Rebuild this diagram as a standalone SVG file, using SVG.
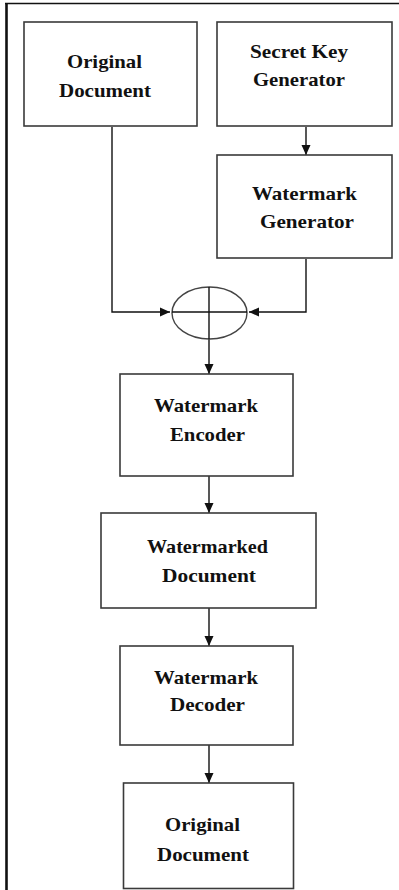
<svg xmlns="http://www.w3.org/2000/svg" width="399" height="890" viewBox="0 0 399 890">
<style>
.box{fill:#fff;stroke:#3a3a3a;stroke-width:1.6}
.t{font-family:"Liberation Serif","Times New Roman",serif;font-weight:bold;font-size:19px;fill:#111}
.c{fill:none;stroke:#111;stroke-width:1.4}
</style>
<defs>
<marker id="ah" viewBox="0 0 10 10" refX="10" refY="5" markerWidth="10" markerHeight="10" markerUnits="userSpaceOnUse" orient="auto">
<path d="M0,0.5 L10,5 L0,9.5 Z" fill="#111"/>
</marker>
</defs>
<rect width="399" height="890" fill="#fff"/>
<g id="frame">
<line x1="5" y1="3.5" x2="399" y2="3.5" stroke="#111" stroke-width="1.5"/>
<line x1="6.5" y1="3" x2="6.5" y2="890" stroke="#111" stroke-width="2.6"/>
</g>
<g id="connectors">
<polyline class="c" points="112,127 112,312 170,312" marker-end="url(#ah)"/>
<line class="c" x1="306" y1="127" x2="306" y2="155" stroke="#444" stroke-width="2" marker-end="url(#ah)"/>
<polyline class="c" points="306,259 306,312 249,312" marker-end="url(#ah)"/>
<line class="c" x1="209" y1="339" x2="209" y2="374" marker-end="url(#ah)"/>
<line class="c" x1="209" y1="476" x2="209" y2="513" marker-end="url(#ah)"/>
<line class="c" x1="209" y1="608" x2="209" y2="646" marker-end="url(#ah)"/>
<line class="c" x1="209" y1="745" x2="209" y2="783" marker-end="url(#ah)"/>
</g>
<g id="n-orig">
<rect class="box" x="24" y="22" width="173" height="104"/>
<text class="t" x="67" y="68" textLength="75" lengthAdjust="spacingAndGlyphs">Original</text>
<text class="t" x="59" y="97" textLength="92" lengthAdjust="spacingAndGlyphs">Document</text>
</g>
<g id="n-key">
<rect class="box" x="217" y="22" width="175" height="104"/>
<text class="t" x="250" y="58" textLength="98" lengthAdjust="spacingAndGlyphs">Secret Key</text>
<text class="t" x="253" y="86" textLength="92" lengthAdjust="spacingAndGlyphs">Generator</text>
</g>
<g id="n-wmgen">
<rect class="box" x="217" y="155" width="175" height="103"/>
<text class="t" x="252" y="200" textLength="105" lengthAdjust="spacingAndGlyphs">Watermark</text>
<text class="t" x="260" y="228" textLength="94" lengthAdjust="spacingAndGlyphs">Generator</text>
</g>
<g id="n-xor">
<ellipse cx="209.5" cy="313" rx="37.5" ry="26" fill="#fff" stroke="#444" stroke-width="1.4"/>
<line x1="209" y1="287" x2="209" y2="339" stroke="#111" stroke-width="1.4"/>
<line x1="172" y1="312" x2="247" y2="312" stroke="#111" stroke-width="1.4"/>
</g>
<g id="n-enc">
<rect class="box" x="120" y="374" width="173" height="102"/>
<text class="t" x="154" y="412" textLength="104" lengthAdjust="spacingAndGlyphs">Watermark</text>
<text class="t" x="170" y="441" textLength="75" lengthAdjust="spacingAndGlyphs">Encoder</text>
</g>
<g id="n-wmdoc">
<rect class="box" x="101" y="513" width="215" height="95"/>
<text class="t" x="147" y="553" textLength="121" lengthAdjust="spacingAndGlyphs">Watermarked</text>
<text class="t" x="162" y="582" textLength="94" lengthAdjust="spacingAndGlyphs">Document</text>
</g>
<g id="n-dec">
<rect class="box" x="120" y="646" width="173" height="99"/>
<text class="t" x="154" y="684" textLength="104" lengthAdjust="spacingAndGlyphs">Watermark</text>
<text class="t" x="170" y="711" textLength="75" lengthAdjust="spacingAndGlyphs">Decoder</text>
</g>
<g id="n-orig2">
<rect class="box" x="123.5" y="783" width="170" height="105.5"/>
<text class="t" x="165" y="831" textLength="75" lengthAdjust="spacingAndGlyphs">Original</text>
<text class="t" x="157" y="861" textLength="92" lengthAdjust="spacingAndGlyphs">Document</text>
</g>
</svg>
